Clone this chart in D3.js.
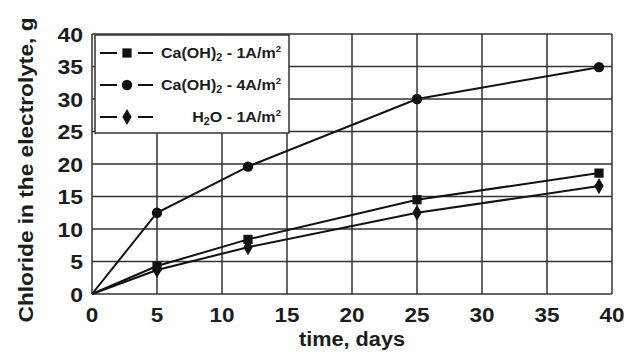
<!DOCTYPE html>
<html>
<head>
<meta charset="utf-8">
<script src="https://cdn.jsdelivr.net/npm/d3@7"></script>
<style>
  body { margin: 0; background: #fff; }
  text { font-family: "Liberation Sans", Arial, sans-serif; font-weight: bold; fill: #1c1c1c; }
</style>
</head>
<body>
<div id="chart"></div>
<script>
// data
const days = [0, 5, 12, 25, 39];
const caOH1 = [0, 4.3, 8.4, 14.5, 18.6];
const caOH4 = [0, 12.5, 19.6, 30, 34.9];
const water1 = [0, 3.7, 7.2, 12.5, 16.6];
const xTicks = [0, 5, 10, 15, 20, 25, 30, 35, 40];
const yTicks = [0, 5, 10, 15, 20, 25, 30, 35, 40];

const series = [
  { name: ['Ca(OH)', '2', ' - 1A/m', '2'], values: caOH1, symbol: d3.symbolSquare, size: 85 },
  { name: ['Ca(OH)', '2', ' - 4A/m', '2'], values: caOH4, symbol: d3.symbolCircle, size: 85 },
  { name: ['H', '2', 'O - 1A/m', '2'], values: water1, symbol: d3.symbolDiamond, size: 75 }
];

const width = 624, height = 354;
const margin = { top: 34, right: 12, bottom: 60, left: 92 };

const svg = d3.select('#chart').append('svg')
  .attr('width', width).attr('height', height);

const x = d3.scaleLinear().domain([0, 40]).range([margin.left, width - margin.right]);
const y = d3.scaleLinear().domain([0, 40]).range([height - margin.bottom, margin.top]);

// grid
svg.append('g').selectAll('line').data(xTicks).enter().append('line')
  .attr('x1', d => x(d)).attr('x2', d => x(d))
  .attr('y1', y(0)).attr('y2', y(40))
  .attr('stroke', '#333').attr('stroke-width', 1.5);
svg.append('g').selectAll('line').data(yTicks).enter().append('line')
  .attr('y1', d => y(d)).attr('y2', d => y(d))
  .attr('x1', x(0)).attr('x2', x(40))
  .attr('stroke', '#333').attr('stroke-width', 1.5);

// tick labels (the original font is wide, so stretch a bit)
svg.append('g').selectAll('text').data(xTicks).enter().append('text')
  .attr('x', d => x(d)).attr('y', y(0) + 28)
  .attr('text-anchor', 'middle').style('font-size', '20px')
  .attr('textLength', d => String(d).length * 12.5)
  .attr('lengthAdjust', 'spacingAndGlyphs')
  .text(d => d);
svg.append('g').selectAll('text').data(yTicks).enter().append('text')
  .attr('x', x(0) - 9).attr('y', d => y(d) + 7.5)
  .attr('text-anchor', 'end').style('font-size', '20px')
  .attr('textLength', d => String(d).length * 12.8)
  .attr('lengthAdjust', 'spacingAndGlyphs')
  .text(d => d);

// axis titles
svg.append('text')
  .attr('x', (x(0) + x(40)) / 2).attr('y', 346)
  .attr('text-anchor', 'middle').style('font-size', '20px')
  .attr('textLength', 106).attr('lengthAdjust', 'spacingAndGlyphs')
  .text('time, days');
svg.append('text')
  .attr('transform', `translate(33, 170) rotate(-90)`)
  .attr('text-anchor', 'middle').style('font-size', '20px')
  .attr('textLength', 305).attr('lengthAdjust', 'spacingAndGlyphs')
  .text('Chloride in the electrolyte, g');

// lines and markers
const line = d3.line().x((d, i) => x(days[i])).y(d => y(d));
series.forEach(s => {
  svg.append('path').datum(s.values)
    .attr('d', line).attr('fill', 'none')
    .attr('stroke', '#111').attr('stroke-width', 2);
  svg.append('g').selectAll('path').data(s.values.slice(1)).enter().append('path')
    .attr('transform', (d, i) => `translate(${x(days[i + 1])}, ${y(d)})`)
    .attr('d', d3.symbol().type(s.symbol).size(s.size))
    .attr('fill', '#111');
});

// legend
const lg = svg.append('g');
lg.append('rect')
  .attr('x', 95).attr('y', 35).attr('width', 194).attr('height', 98)
  .attr('fill', '#fff').attr('stroke', '#333').attr('stroke-width', 1.5);
series.forEach((s, i) => {
  const ry = 53 + i * 32;
  lg.append('line').attr('x1', 100).attr('x2', 117).attr('y1', ry).attr('y2', ry)
    .attr('stroke', '#111').attr('stroke-width', 2);
  lg.append('line').attr('x1', 138).attr('x2', 153).attr('y1', ry).attr('y2', ry)
    .attr('stroke', '#111').attr('stroke-width', 2);
  lg.append('path').attr('transform', `translate(127, ${ry})`)
    .attr('d', d3.symbol().type(s.symbol).size(s.size)).attr('fill', '#111');
  const t = lg.append('text')
    .attr('transform', `translate(281, ${ry + 5}) scale(1.07, 1)`)
    .attr('text-anchor', 'end').style('font-size', '15px');
  t.append('tspan').text(s.name[0]);
  t.append('tspan').attr('dy', 3).style('font-size', '10px').text(s.name[1]);
  t.append('tspan').attr('dy', -3).text(s.name[2]);
  t.append('tspan').attr('dy', -6).style('font-size', '9px').text(s.name[3]);
});
</script>
</body>
</html>
